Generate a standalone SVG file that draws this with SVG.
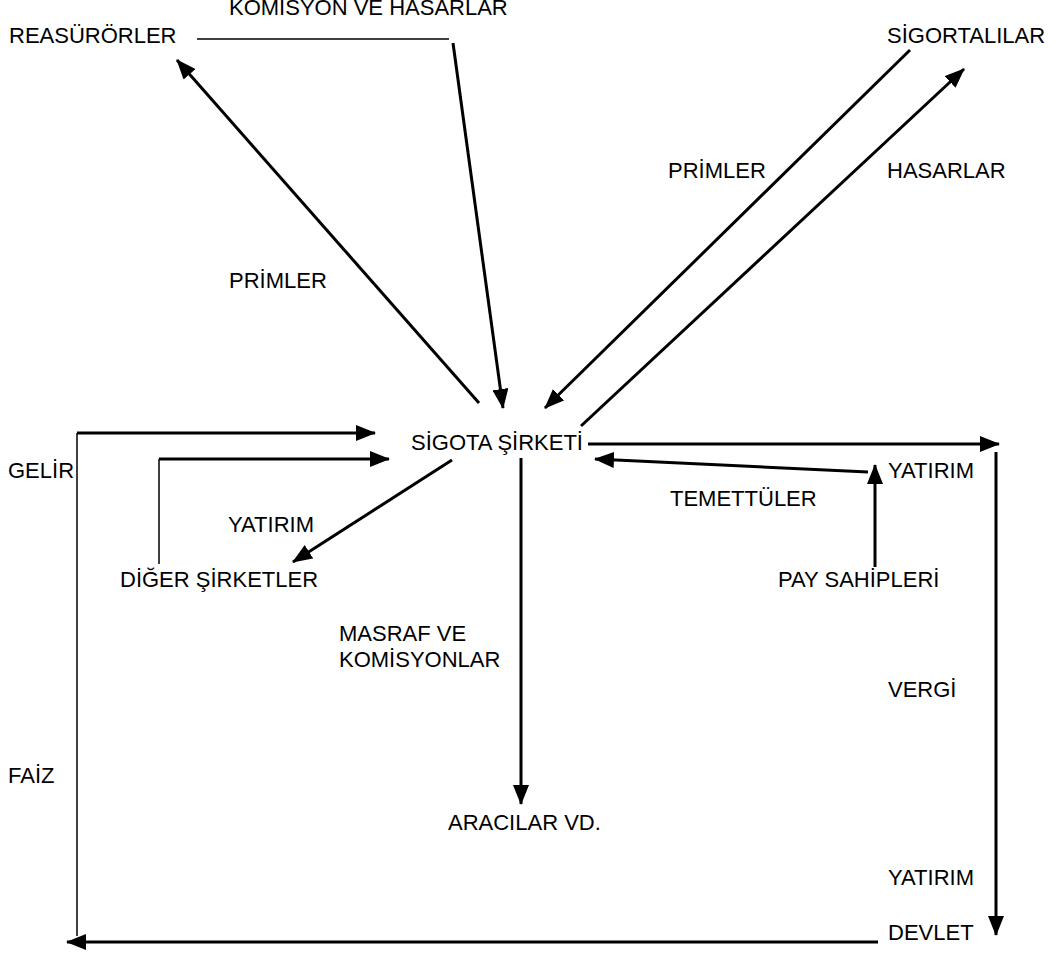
<svg xmlns="http://www.w3.org/2000/svg" width="1057" height="953" viewBox="0 0 1057 953">
<style>
text{font-family:"Liberation Sans",Arial,sans-serif;font-size:22px;fill:#000}
.a{stroke:#000;stroke-width:3;fill:none;marker-end:url(#ah)}
.t{stroke:#000;stroke-width:3;fill:none}
.n{stroke:#000;stroke-width:1.5;fill:none}
</style>
<defs>
<marker id="ah" markerUnits="userSpaceOnUse" markerWidth="20" markerHeight="16" refX="19" refY="8" orient="auto">
<path d="M0,0 L20,8 L0,16 z" fill="#000"/>
</marker>
</defs>
<rect width="1057" height="953" fill="#fff"/>
<g id="connectors">
<line class="n" x1="197" y1="39" x2="449" y2="39"/>
<line class="a" x1="453" y1="43" x2="503" y2="408"/>
<line class="a" x1="479" y1="403" x2="177" y2="60"/>
<line class="a" x1="910" y1="50" x2="545" y2="408"/>
<line class="a" x1="581" y1="426" x2="964" y2="69"/>
<line class="a" x1="77" y1="433" x2="375" y2="433"/>
<line class="n" x1="77" y1="433" x2="77" y2="936"/>
<line class="a" x1="159" y1="459" x2="389" y2="459"/>
<line class="n" x1="159" y1="459" x2="159" y2="564"/>
<line class="a" x1="452" y1="460" x2="293" y2="562"/>
<line class="a" x1="521" y1="458" x2="521" y2="804"/>
<line class="a" x1="588" y1="444" x2="999" y2="444"/>
<line class="a" x1="996" y1="452" x2="996" y2="935"/>
<line class="a" x1="868" y1="472" x2="595" y2="459"/>
<line class="a" x1="875" y1="567" x2="875" y2="465"/>
<line class="a" x1="878" y1="942" x2="67" y2="942"/>
</g>
<g id="node-komisyon"><text x="229" y="15">KOMİSYON VE HASARLAR</text></g>
<g id="node-reasurorler"><text x="9" y="43">REASÜRÖRLER</text></g>
<g id="node-sigortalilar"><text x="887" y="43">SİGORTALILAR</text></g>
<g id="label-primler-right"><text x="668" y="178">PRİMLER</text></g>
<g id="label-hasarlar"><text x="887" y="178">HASARLAR</text></g>
<g id="label-primler-left"><text x="229" y="288">PRİMLER</text></g>
<g id="node-sigorta"><text x="411" y="450">SİGOTA ŞİRKETİ</text></g>
<g id="label-gelir"><text x="8" y="478">GELİR</text></g>
<g id="label-yatirim-left"><text x="228" y="532">YATIRIM</text></g>
<g id="node-diger"><text x="120" y="587">DİĞER ŞİRKETLER</text></g>
<g id="label-yatirim-right"><text x="888" y="478">YATIRIM</text></g>
<g id="label-temettuler"><text x="670" y="506">TEMETTÜLER</text></g>
<g id="node-pay"><text x="778" y="587">PAY SAHİPLERİ</text></g>
<g id="label-masraf"><text x="339" y="641">MASRAF VE</text><text x="339" y="667">KOMİSYONLAR</text></g>
<g id="label-vergi"><text x="888" y="697">VERGİ</text></g>
<g id="label-faiz"><text x="8" y="783">FAİZ</text></g>
<g id="node-aracilar"><text x="448" y="830">ARACILAR VD.</text></g>
<g id="label-yatirim-bottom"><text x="888" y="885">YATIRIM</text></g>
<g id="node-devlet"><text x="888" y="940">DEVLET</text></g>
</svg>
